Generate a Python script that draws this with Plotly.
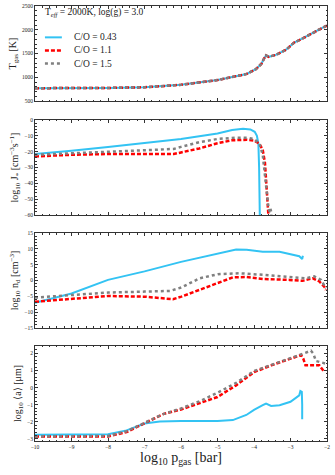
import plotly.graph_objects as go
from plotly.subplots import make_subplots

labels = ["C/O = 0.43", "C/O = 1.1", "C/O = 1.5"]

# Panel 1: gas temperature (same for all C/O)
x_T = [-10, -9, -8, -7, -6, -5, -4.6, -4.2, -3.95, -3.8, -3.72, -3.67, -3.6, -3.4, -3.12, -2.9, -2.76, -2.4, -2.0]
T_gas = [770, 770, 775, 790, 840, 940, 1000, 1070, 1170, 1280, 1400, 1460, 1430, 1470, 1580, 1730, 1780, 1930, 2090]

# Panel 2: nucleation rate log10 J*
x_J_043 = [-10, -9, -8, -7, -6, -5, -4.6, -4.3, -4.1, -3.98, -3.92, -3.88, -3.86, -3.84]
J_043 = [-21.5, -19.5, -17, -14.5, -12, -8.5, -6.3, -5.5, -6.0, -7.5, -10, -15, -30, -62]
x_J_11 = [-10, -9, -8, -7, -6.2, -6, -5.5, -5, -4.6, -4.2, -4.0, -3.85, -3.76, -3.7, -3.67, -3.63, -3.6]
J_11 = [-23, -22, -21.5, -21.5, -21.5, -20.5, -18, -14.7, -12.8, -12.5, -13, -15, -19, -27, -40, -55, -62]
x_J_15 = [-10, -9, -8, -7, -6.2, -6, -5.5, -5, -4.5, -4.2, -4.0, -3.85, -3.76, -3.7, -3.65, -3.6, -3.57, -3.55, -3.53, -3.52]
J_15 = [-22, -21, -20, -19, -18.3, -17, -14, -12, -11.2, -11.2, -12, -15, -22, -35, -48, -56, -58, -56, -58, -62]

# Panel 3: dust number density log10 n_d
x_n_043 = [-10, -9, -8, -7, -6, -5, -4.49, -4.2, -3.76, -3.3, -3.03, -2.76, -2.68, -2.66]
n_043 = [-7, -4.1, 0.2, 2.9, 5.9, 8.4, 9.8, 9.7, 9.1, 9.1, 8.4, 7.7, 6.8, 7.8]
x_n_11 = [-10, -9, -8, -7, -6.22, -5.99, -5.49, -4.99, -4.58, -4.21, -3.76, -3.03, -2.67, -2.39, -2.21, -2.07, -2.03]
n_11 = [-6.7, -5.7, -4.9, -5.1, -5.9, -5.1, -3, -0.85, 1, 1.1, 0.5, 0.2, -0.1, 0.7, -0.3, -2, -3]
x_n_15 = [-10, -9, -8, -7, -6.3, -5.99, -5.49, -4.99, -4.4, -3.76, -3.03, -2.57, -2.35, -2.16, -2.03]
n_15 = [-5.4, -4.6, -3.8, -3.5, -3.3, -2.2, 0.7, 2, 2.3, 1.8, 1.1, 0.7, 1.3, 0.2, -2.5]

# Panel 4: mean grain size log10 <a>
x_a_043 = [-10, -9, -8, -7.49, -7, -6.58, -6, -5, -4.58, -4.21, -4, -3.76, -3.67, -3.53, -3.3, -3, -2.76, -2.73, -2.69, -2.68, -2.68]
a_043 = [-2.75, -2.75, -2.72, -2.5, -2.1, -1.98, -1.95, -1.95, -1.9, -1.6, -1.3, -1.03, -0.93, -1.07, -1.03, -0.83, -0.45, -0.2, -0.25, -1.0, -1.85]
x_a_11 = [-10, -9, -8, -7.49, -7, -6.49, -6, -5.49, -5, -4.49, -4, -3.53, -3, -2.71, -2.65, -2.59, -2.21, -2.07]
a_11 = [-2.85, -2.85, -2.85, -2.6, -2.1, -1.55, -1.28, -0.93, -0.55, 0.13, 0.9, 1.3, 1.7, 1.9, 1.7, 1.3, 1.3, 0.9]
x_a_15 = [-10, -9, -8, -7.49, -7, -6.49, -6, -5.49, -5, -4.49, -4, -3, -2.44, -2.38, -2.3, -2.03]
a_15 = [-2.85, -2.85, -2.83, -2.55, -2.05, -1.55, -1.22, -0.8, -0.3, 0.27, 0.97, 1.75, 2.15, 2.0, 1.55, 1.4]

colors = ["#33c3f3", "#ff0000", "#808080"]
dashes = ["solid", "4px,2px", "dot"]
widths = [2, 2.5, 2.5]

FONT = "Liberation Serif"
TXT = "#222"

fig = make_subplots(rows=4, cols=1, shared_xaxes=True, vertical_spacing=0.0)

panels = [
    [(x_T, T_gas), (x_T, T_gas), (x_T, T_gas)],
    [(x_J_043, J_043), (x_J_11, J_11), (x_J_15, J_15)],
    [(x_n_043, n_043), (x_n_11, n_11), (x_n_15, n_15)],
    [(x_a_043, a_043), (x_a_11, a_11), (x_a_15, a_15)],
]

for r, series in enumerate(panels, start=1):
    for i, (xs, ys) in enumerate(series):
        fig.add_trace(go.Scatter(
            x=xs, y=ys, mode="lines", name=labels[i],
            line=dict(color=colors[i], dash=dashes[i], width=widths[i]),
            showlegend=False,
        ), row=r, col=1)

domains = [[0.7816, 1.0], [0.5195, 0.738], [0.2598, 0.478], [0.0, 0.2184]]
yranges = [[500, 2500], [-60, 0], [-15, 15], [-3.12, 2.43]]
ydticks = [500, 10, 5, 1]
yminor = [100, 2, 1, 0.2]
ytitles = [
    "T<sub>gas</sub> [K]",
    "log<sub>10</sub> J<sub>*</sub> [cm<sup>−3</sup>s<sup>−1</sup>]",
    "log<sub>10</sub> n<sub>d</sub> [cm<sup>−3</sup>]",
    "log<sub>10</sub> ⟨a⟩ [μm]",
]

for r in range(1, 5):
    yname = "yaxis" if r == 1 else f"yaxis{r}"
    xname = "xaxis" if r == 1 else f"xaxis{r}"
    fig.layout[yname].update(
        domain=domains[r - 1], range=yranges[r - 1], dtick=ydticks[r - 1],
        tick0=0, showgrid=False, zeroline=False, showline=True, mirror="ticks",
        linecolor="#333", linewidth=1, ticks="inside", ticklen=3, tickcolor="#333",
        tickfont=dict(size=5.5, family=FONT, color=TXT),
        minor=dict(ticks="inside", ticklen=1.5, dtick=yminor[r - 1], tickcolor="#333"),
        title=dict(text=ytitles[r - 1], font=dict(size=10, family=FONT, color=TXT), standoff=3),
        automargin=False,
    )
    fig.layout[xname].update(
        range=[-10, -2], dtick=1, tick0=0, showgrid=False, zeroline=False,
        showline=True, mirror="ticks", linecolor="#333", linewidth=1,
        ticks="inside", ticklen=3, tickcolor="#333",
        minor=dict(ticks="inside", ticklen=1.5, dtick=0.2, tickcolor="#333"),
        tickfont=dict(size=5.5, family=FONT, color=TXT),
        showticklabels=(r == 4), automargin=False,
    )

fig.layout.xaxis4.title = dict(text="log<sub>10</sub> p<sub>gas</sub> [bar]",
                               font=dict(size=14, family=FONT, color=TXT), standoff=0)

# Annotation text in panel 1
fig.add_annotation(xref="x domain", yref="y domain", x=0.027, y=0.936,
                   xanchor="left", yanchor="middle", showarrow=False,
                   text="T<sub><i>eff</i></sub> = 2000K, log(g) = 3.0",
                   font=dict(size=9.5, family=FONT, color=TXT))

# Manual legend in panel 1
leg_y = [0.670, 0.532, 0.394]
for i in range(3):
    fig.add_shape(type="line", xref="x domain", yref="y domain",
                  x0=0.034, x1=0.092, y0=leg_y[i], y1=leg_y[i],
                  line=dict(color=colors[i], dash=dashes[i], width=widths[i]))
    fig.add_annotation(xref="x domain", yref="y domain", x=0.127, y=leg_y[i],
                       xanchor="left", yanchor="middle", showarrow=False,
                       text=labels[i], font=dict(size=9.5, family=FONT, color=TXT))

fig.update_layout(
    width=335, height=475,
    margin=dict(l=35, r=8, t=6, b=34),
    plot_bgcolor="white", paper_bgcolor="white",
    showlegend=False,
)

fig.write_html("out.html",
               config={"displayModeBar": False, "staticPlot": True},
               post_script="document.body.style.margin='0px';document.body.style.overflow='hidden';")
